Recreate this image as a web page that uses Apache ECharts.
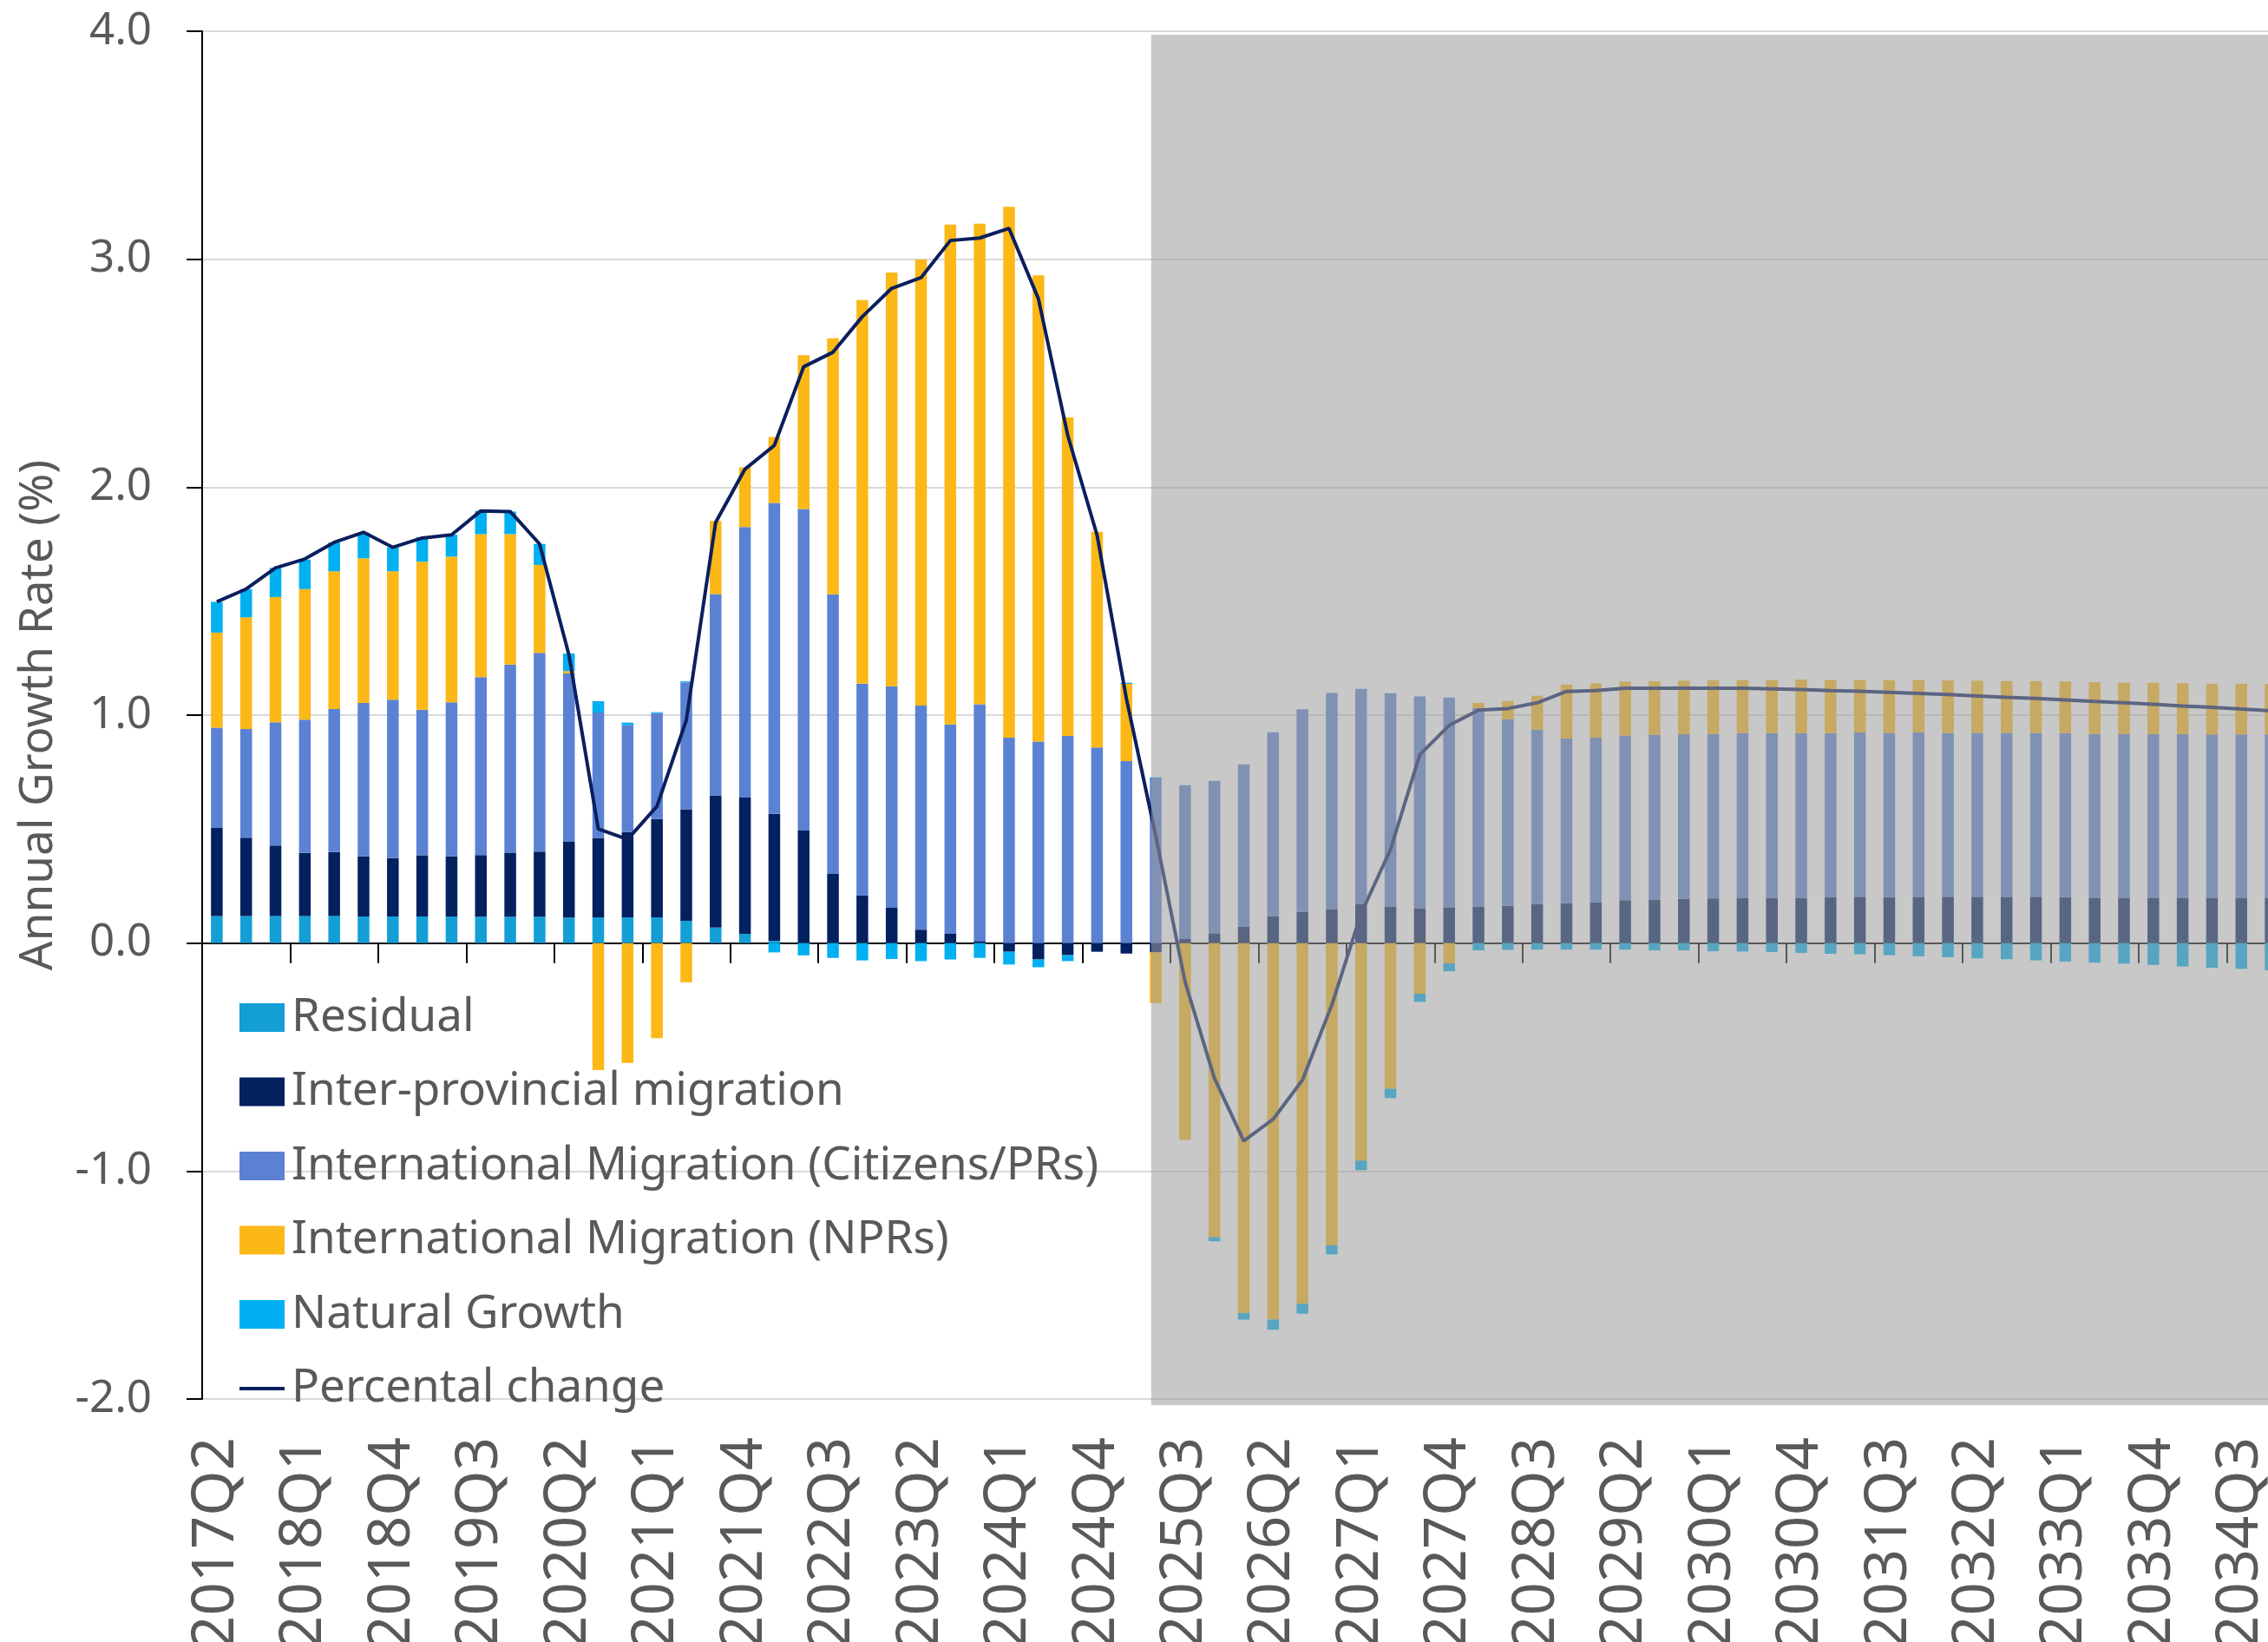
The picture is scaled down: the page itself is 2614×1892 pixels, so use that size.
<!DOCTYPE html>
<html>
<head>
<meta charset="utf-8">
<script src="https://cdn.jsdelivr.net/npm/echarts@6/dist/echarts.min.js"></script>
<style>
  html, body { margin: 0; padding: 0; background: #fff; }
  #chart { width: 2614px; height: 1892px; }
</style>
</head>
<body>
<div id="chart"></div>
<script>
var quarters = ['2017Q2','2017Q3','2017Q4','2018Q1','2018Q2','2018Q3','2018Q4','2019Q1','2019Q2','2019Q3',
  '2019Q4','2020Q1','2020Q2','2020Q3','2020Q4','2021Q1','2021Q2','2021Q3','2021Q4','2022Q1',
  '2022Q2','2022Q3','2022Q4','2023Q1','2023Q2','2023Q3','2023Q4','2024Q1','2024Q2','2024Q3',
  '2024Q4','2025Q1','2025Q2','2025Q3','2025Q4','2026Q1','2026Q2','2026Q3','2026Q4','2027Q1',
  '2027Q2','2027Q3','2027Q4','2028Q1','2028Q2','2028Q3','2028Q4','2029Q1','2029Q2','2029Q3',
  '2029Q4','2030Q1','2030Q2','2030Q3','2030Q4','2031Q1','2031Q2','2031Q3','2031Q4','2032Q1',
  '2032Q2','2032Q3','2032Q4','2033Q1','2033Q2','2033Q3','2033Q4','2034Q1','2034Q2','2034Q3',
  '2034Q4'];

// first projected quarter (shaded)
var forecastStart = '2025Q2';

var residual = [0.119,0.119,0.119,0.119,0.119,0.117,0.117,0.117,0.117,0.116,
  0.116,0.116,0.112,0.113,0.113,0.113,0.098,0.068,0.041,0.010,
  0,0,0,0,0,0,0,0,0,0,
  0,0,0,0,0,0,0,0,0,0,
  0,0,0,0,0,0,0,0,0,0,
  0,0,0,0,0,0,0,0,0,0,
  0,0,0,0,0,0,0,0,0,0,0];

var interProv = [0.386,0.343,0.309,0.277,0.280,0.263,0.256,0.268,0.263,0.270,
  0.279,0.285,0.332,0.348,0.374,0.431,0.489,0.580,0.597,0.557,
  0.494,0.303,0.210,0.155,0.059,0.041,0.009,-0.038,-0.072,-0.053,
  -0.038,-0.046,-0.041,0.020,0.043,0.073,0.118,0.137,0.149,0.172,
  0.160,0.153,0.157,0.160,0.164,0.171,0.175,0.179,0.188,0.190,
  0.194,0.196,0.198,0.198,0.198,0.202,0.203,0.202,0.203,0.203,
  0.203,0.203,0.203,0.202,0.199,0.199,0.199,0.199,0.199,0.199,0.199];

var intlCitizens = [0.440,0.477,0.541,0.584,0.628,0.673,0.695,0.639,0.676,0.781,
  0.827,0.872,0.739,0.550,0.469,0.465,0.557,0.883,1.187,1.364,
  1.410,1.227,0.928,0.972,0.983,0.918,1.039,0.901,0.884,0.909,
  0.858,0.798,0.722,0.673,0.669,0.711,0.807,0.889,0.948,0.943,
  0.936,0.929,0.920,0.871,0.818,0.766,0.723,0.723,0.722,0.724,
  0.722,0.721,0.723,0.723,0.723,0.719,0.721,0.720,0.721,0.719,
  0.719,0.719,0.719,0.719,0.718,0.718,0.718,0.718,0.716,0.716,0.716];

var intlNPR = [0.417,0.490,0.549,0.573,0.604,0.635,0.563,0.649,0.639,0.627,
  0.572,0.386,0.010,-0.557,-0.526,-0.417,-0.172,0.321,0.262,0.289,
  0.675,1.123,1.683,1.815,1.957,2.193,2.108,2.329,2.045,1.397,
  0.946,0.339,-0.222,-0.864,-1.290,-1.623,-1.651,-1.582,-1.326,-0.954,
  -0.639,-0.222,-0.089,0.023,0.080,0.148,0.236,0.237,0.237,0.235,
  0.235,0.236,0.233,0.233,0.235,0.233,0.230,0.231,0.230,0.230,
  0.229,0.227,0.227,0.227,0.227,0.225,0.225,0.223,0.223,0.223,0.221];

var naturalGrowth = [0.135,0.124,0.128,0.129,0.126,0.112,0.105,0.107,0.096,0.102,
  0.099,0.092,0.077,0.050,0.011,0.004,0.004,0,0,-0.041,
  -0.054,-0.065,-0.076,-0.070,-0.079,-0.072,-0.065,-0.056,-0.034,-0.026,
  0,0.005,0.005,0,-0.018,-0.029,-0.045,-0.044,-0.040,-0.042,
  -0.041,-0.036,-0.035,-0.032,-0.030,-0.029,-0.029,-0.029,-0.029,-0.032,
  -0.032,-0.036,-0.037,-0.039,-0.043,-0.047,-0.049,-0.053,-0.058,-0.062,
  -0.067,-0.071,-0.076,-0.081,-0.086,-0.090,-0.096,-0.103,-0.108,-0.113,-0.119];

var pctChange = [1.497,1.553,1.646,1.685,1.758,1.802,1.736,1.777,1.791,1.896,
  1.893,1.751,1.265,0.501,0.455,0.600,0.978,1.845,2.079,2.183,
  2.528,2.592,2.748,2.872,2.919,3.082,3.093,3.135,2.827,2.228,
  1.790,1.073,0.470,-0.170,-0.593,-0.868,-0.773,-0.601,-0.272,0.130,
  0.410,0.826,0.955,1.022,1.029,1.054,1.104,1.108,1.118,1.118,
  1.118,1.118,1.118,1.115,1.112,1.108,1.105,1.100,1.095,1.090,
  1.084,1.078,1.073,1.067,1.060,1.054,1.048,1.040,1.034,1.027,1.019];

var FONT = 'Noto Sans';
var TXT = '#595959';
var BARW = 13.5;

var myChart = echarts.init(document.getElementById('chart'));

function barSeries(name, data, color) {
  return {
    name: name,
    type: 'bar',
    stack: 'total',
    barWidth: BARW,
    data: data,
    itemStyle: { color: color },
    emphasis: { disabled: true }
  };
}

var option = {
  animation: false,
  backgroundColor: '#fff',
  textStyle: { fontFamily: FONT },
  grid: { left: 233, top: 36, right: -20, bottom: 280, containLabel: false, outerBoundsMode: 'none' },
  legend: {
    orient: 'vertical',
    left: 276,
    top: 1146,
    padding: 0,
    itemWidth: 52,
    itemHeight: 33,
    itemGap: 32.5,
    textStyle: { color: TXT, fontSize: 53, fontFamily: FONT, padding: [0, 0, 0, 3] },
    data: [
      { name: 'Residual', icon: 'rect' },
      { name: 'Inter-provincial migration', icon: 'rect' },
      { name: 'International Migration (Citizens/PRs)', icon: 'rect' },
      { name: 'International Migration (NPRs)', icon: 'rect' },
      { name: 'Natural Growth', icon: 'rect' },
      { name: 'Percental change', icon: 'path://M0,0 L52,0 L52,4 L0,4 Z' }
    ]
  },
  xAxis: [
    {
      type: 'category',
      data: quarters,
      axisLine: { onZero: true, lineStyle: { color: '#000', width: 2 } },
      axisTick: { show: true, interval: 2, length: 23, lineStyle: { color: '#000', width: 2 } },
      axisLabel: { show: false },
      splitLine: { show: false }
    },
    {
      type: 'category',
      data: quarters,
      position: 'bottom',
      axisLine: { show: false, onZero: false },
      axisTick: { show: false },
      axisLabel: {
        interval: 2,
        rotate: 90,
        margin: 44,
        color: TXT,
        fontSize: 67,
        fontFamily: FONT
      },
      splitLine: { show: false }
    }
  ],
  yAxis: {
    type: 'value',
    min: -2,
    max: 4,
    interval: 1,
    name: 'Annual Growth Rate (%)',
    nameLocation: 'middle',
    nameGap: 162,
    nameTextStyle: { color: TXT, fontSize: 53, fontFamily: FONT },
    axisLine: { show: true, lineStyle: { color: '#000', width: 2 } },
    axisTick: { show: true, length: 18, lineStyle: { color: '#000', width: 2 } },
    axisLabel: {
      margin: 58,
      color: TXT,
      fontSize: 51,
      fontFamily: FONT,
      formatter: function (v) { return v.toFixed(1); }
    },
    splitLine: { lineStyle: { color: '#D9D9D9', width: 2 } }
  },
  series: [
    barSeries('Residual', residual, '#139FD6'),
    barSeries('Inter-provincial migration', interProv, '#03205F'),
    barSeries('International Migration (Citizens/PRs)', intlCitizens, '#5B82D2'),
    barSeries('International Migration (NPRs)', intlNPR, '#FBB817'),
    barSeries('Natural Growth', naturalGrowth, '#00B0F0'),
    {
      name: 'Percental change',
      type: 'line',
      data: pctChange,
      symbol: 'none',
      z: 5,
      lineStyle: { color: '#0B1F5E', width: 4 },
      itemStyle: { color: '#0B1F5E' },
      emphasis: { disabled: true }
    }
  ]
};

myChart.setOption(option);

// grey shading over the projection period, placed from the axes
var x0 = myChart.convertToPixel({ xAxisIndex: 0 }, forecastStart) - BARW / 2 + 1.5;
var yTop = myChart.convertToPixel({ yAxisIndex: 0 }, 4) + 4;
var yBot = myChart.convertToPixel({ yAxisIndex: 0 }, -2) + 7;
myChart.setOption({
  graphic: [{
    type: 'rect',
    z: 100,
    silent: true,
    shape: { x: x0, y: yTop, width: 2614 - x0 + 40, height: yBot - yTop },
    style: { fill: 'rgba(157,157,157,0.56)' }
  }]
});
</script>
</body>
</html>
